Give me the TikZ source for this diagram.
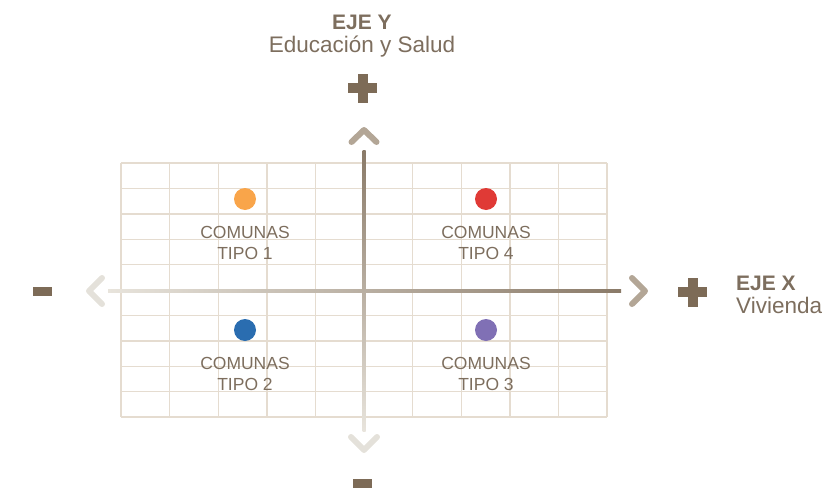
\documentclass[tikz,border=0pt]{standalone}
\usepackage{fontspec}
\setmainfont{Liberation Sans}
\definecolor{txt}{HTML}{7D6E5E}
\definecolor{sym}{HTML}{7D6B57}
\definecolor{gridc}{HTML}{E5DCD0}
\definecolor{axdark}{HTML}{8A7A68}
\definecolor{axlight}{HTML}{E8E4DC}
\definecolor{chevdark}{HTML}{B3A696}
\definecolor{chevlight}{HTML}{E4E1DA}
\definecolor{dotorange}{HTML}{F9A54A}
\definecolor{dotred}{HTML}{E03A36}
\definecolor{dotblue}{HTML}{2A6DB0}
\definecolor{dotpurple}{HTML}{8070B5}
\tikzset{
  chev/.style={line width=6pt, line cap=round, line join=round},
  dot/.style={circle, minimum size=22pt, inner sep=0pt},
  lbl/.style={text=txt, align=center, font=\fontsize{17.5}{21}\selectfont},
  axlbl/.style={text=txt, font=\fontsize{22.5}{23}\selectfont},
  symb/.style={fill=sym}
}
\newcommand{\boldlbl}[1]{{\fontsize{21}{23}\selectfont\bfseries #1}}
\begin{document}
\begin{tikzpicture}[x=1pt,y=-1pt]
\useasboundingbox (0,0) rectangle (823,490);
% grid
\foreach \i in {0,...,10} {
  \draw[gridc, line width=1.4pt] ({121+48.6*\i},163) -- ({121+48.6*\i},417);
  \draw[gridc, line width=1.4pt] (121,{163+25.4*\i}) -- (607,{163+25.4*\i});
}
% axes with gradient
\shade[left color=axlight, right color=axdark] (108,289.5) rectangle (621,292.5);
\shade[top color=axdark, bottom color=axlight] (362.5,150) rectangle (365.5,431);
% chevrons
\coordinate (tA) at (364,130);
\draw[chev, chevdark] (351.5,142) -- (tA) -- (376.5,142);
\coordinate (rA) at (645,291);
\draw[chev, chevdark] (632,278) -- (rA) -- (632,304);
\coordinate (lA) at (89,291);
\draw[chev, chevlight] (102,278) -- (lA) -- (102,304);
\coordinate (bA) at (364,450);
\draw[chev, chevlight] (351,437) -- (bA) -- (377,437);
% plus / minus signs
\fill[symb] (348,83) rectangle (377,93);
\fill[symb] (357.5,73.5) rectangle (367.5,102.5);
\fill[symb] (678,287) rectangle (707,297);
\fill[symb] (687.5,277.5) rectangle (697.5,306.5);
\fill[symb] (33,287) rectangle (52,296);
\fill[symb] (353,479) rectangle (372,488);
% axis labels
\node[axlbl, align=center] (ejey) at (362,36) {\boldlbl{EJE Y}\\Educación y Salud};
\node[axlbl, align=left, anchor=west, inner sep=0pt] (ejex) at (736,295) {\boldlbl{EJE X}\\Vivienda};
% dots
\node[dot, fill=dotorange] (d1) at (245,199) {};
\node[dot, fill=dotred] (d4) at (486,199) {};
\node[dot, fill=dotblue] (d2) at (245,330) {};
\node[dot, fill=dotpurple] (d3) at (486,330) {};
% labels
\node[lbl] (t1) at (245,243) {COMUNAS\\TIPO 1};
\node[lbl] (t4) at (486,243) {COMUNAS\\TIPO 4};
\node[lbl] (t2) at (245,374) {COMUNAS\\TIPO 2};
\node[lbl] (t3) at (486,374) {COMUNAS\\TIPO 3};
\end{tikzpicture}
\end{document}
